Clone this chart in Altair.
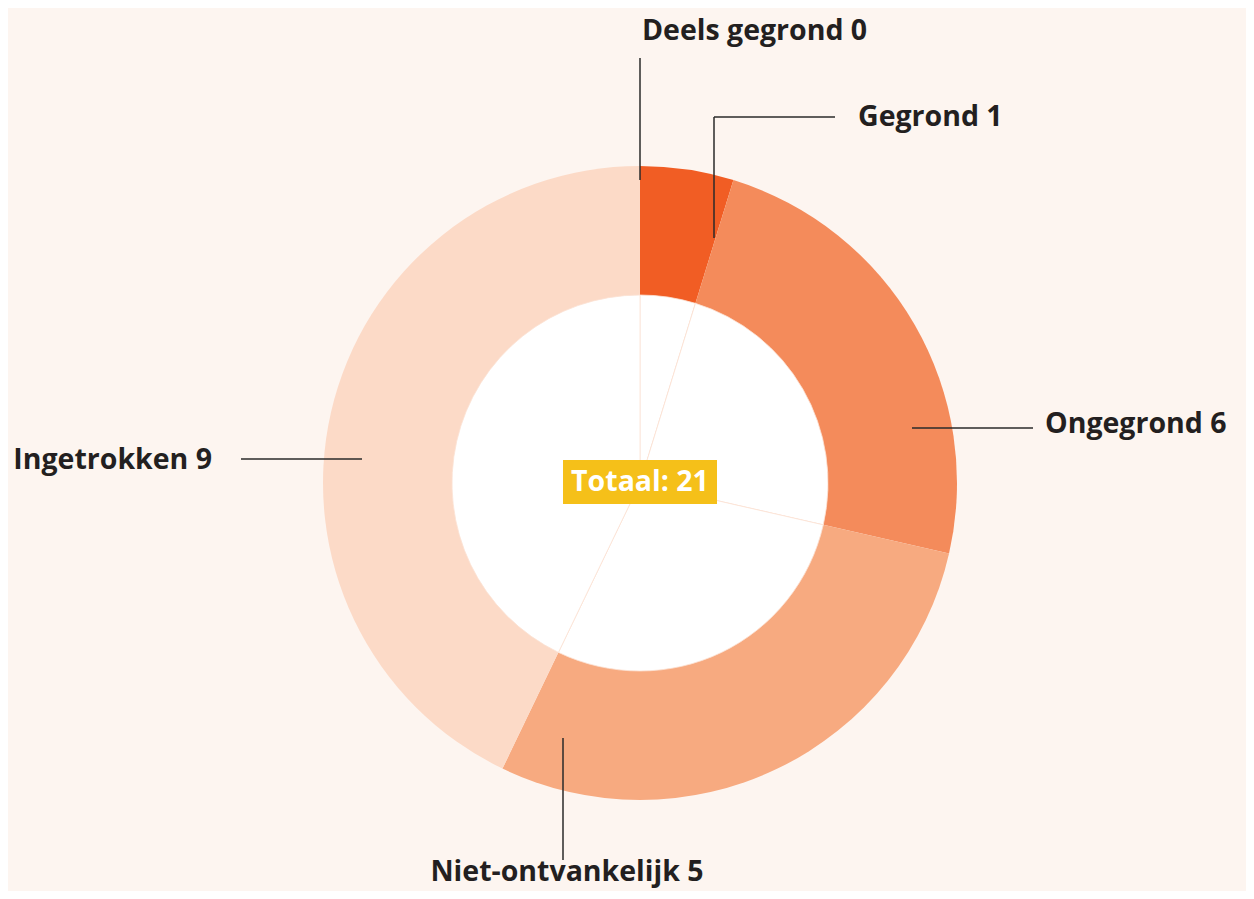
import math
import altair as alt
import pandas as pd

# ---- data ----
categories = ["Deels gegrond", "Gegrond", "Ongegrond", "Niet-ontvankelijk", "Ingetrokken"]
label_counts = [0, 1, 6, 5, 9]          # numbers printed in the labels
slice_sizes = [0, 1, 5, 6, 9]           # slice sizes as drawn in the picture
colors = ["#F15D24", "#F15D24", "#F48B5B", "#F7AA80", "#FCDAC7"]
total_label = "Totaal: " + str(sum(label_counts))

# ---- layout (chart coordinates; page offset 8px) ----
W, H = 1238, 883
CX, CY = 632, 475
R_OUT, R_IN = 317, 188
FONT = "Open Sans"
FS = 28.5
BG = "#FDF5F0"

df = pd.DataFrame({"cat": categories, "n": slice_sizes, "order": list(range(len(categories)))})

arcs = alt.Chart(df).mark_arc(outerRadius=R_OUT, innerRadius=0).encode(
    theta=alt.Theta("n:Q", stack=True),
    order=alt.Order("order:Q"),
    color=alt.Color("cat:N", scale=alt.Scale(domain=categories, range=colors), legend=None),
    x=alt.value(CX), y=alt.value(CY),
)

inner = alt.Chart(df).mark_arc(
    outerRadius=R_IN, innerRadius=0, fill="white", stroke="#FBE2D4", strokeWidth=0.8
).encode(
    theta=alt.Theta("n:Q", stack=True),
    order=alt.Order("order:Q"),
    x=alt.value(CX), y=alt.value(CY),
)

# leader lines (segments), page coords minus 8
segs = [
    (640, 58, 640, 180),
    (714, 238, 714, 117),
    (714, 117, 835, 117),
    (912, 428, 1033, 428),
    (241, 459, 362, 459),
    (563, 738, 563, 860),
]
seg_df = pd.DataFrame([{"x": a - 8, "y": b - 8, "x2": c - 8, "y2": d - 8} for a, b, c, d in segs])
xs = alt.Scale(domain=[0, W], range=[0, W])
ys = alt.Scale(domain=[0, H], range=[0, H])
lines = alt.Chart(seg_df).mark_rule(color="#2a2a2a", strokeWidth=1.5).encode(
    x=alt.X("x:Q", scale=xs, axis=None), y=alt.Y("y:Q", scale=ys, axis=None),
    x2="x2:Q", y2="y2:Q",
)

label_pos = [
    (642, 31, "left"),
    (858, 117, "left"),
    (1045, 424, "left"),
    (567, 872, "center"),
    (212, 460, "right"),
]
lab_rows = []
for (c, n), (px, py, al) in zip(zip(categories, label_counts), label_pos):
    lab_rows.append({"t": f"{c} {n}", "x": px - 8, "y": py - 8, "al": al})
lab_df = pd.DataFrame(lab_rows)

texts = []
for al in ["left", "center", "right"]:
    texts.append(
        alt.Chart(lab_df[lab_df.al == al]).mark_text(
            font=FONT, fontSize=FS, fontWeight="bold", color="#231F20", align=al, baseline="middle"
        ).encode(x=alt.X("x:Q", scale=xs, axis=None), y=alt.Y("y:Q", scale=ys, axis=None), text="t:N")
    )

box_df = pd.DataFrame({"x": [563 - 8], "x2": [717 - 8], "y": [460 - 8], "y2": [504 - 8],
                       "t": [total_label], "tx": [640 - 8], "ty": [482 - 8]})
box = alt.Chart(box_df).mark_rect(color="#F5C019").encode(
    x=alt.X("x:Q", scale=xs, axis=None), x2="x2:Q",
    y=alt.Y("y:Q", scale=ys, axis=None), y2="y2:Q",
)
box_text = alt.Chart(box_df).mark_text(
    font=FONT, fontSize=FS, fontWeight="bold", color="white", align="center", baseline="middle"
).encode(x=alt.X("tx:Q", scale=xs, axis=None), y=alt.Y("ty:Q", scale=ys, axis=None), text="t:N")

chart = alt.layer(arcs, inner, lines, *texts, box, box_text).properties(
    width=W, height=H, background=BG, padding=0,
    autosize=alt.AutoSizeParams(type="none"),
).configure_view(stroke=None)

chart.save("out.html", embed_options={"renderer": "svg", "actions": False})
